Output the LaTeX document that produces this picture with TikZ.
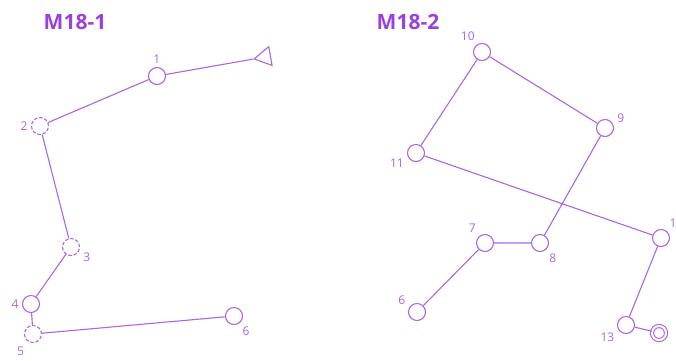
\documentclass[tikz,border=0pt]{standalone}
\usepackage{fontspec}
\setmainfont{Open Sans}
\usetikzlibrary{shapes.geometric}
\definecolor{mlila}{HTML}{A866E8}
\definecolor{mtitel}{HTML}{9A3FE0}

\begin{document}
\begin{tikzpicture}[x=1pt,y=-1pt,
  every node/.style={font=\fontsize{12}{14}\selectfont,text=mlila},
  pt/.style={draw=mlila,circle,line width=1.1pt,minimum size=17pt,inner sep=0pt,
    label distance=0pt,every label/.style={inner sep=1pt,text=mlila,font=\fontsize{12}{14}\selectfont}},
  dpt/.style={pt,dashed,dash pattern=on 3.5pt off 1.8pt},
  eind/.style={draw=mlila,circle,line width=1.1pt,double,double distance=2pt,minimum size=14pt,inner sep=0pt},
  pijl/.style={draw=mlila,regular polygon,regular polygon sides=3,line width=1.1pt,minimum size=22pt,inner sep=0pt,rotate=100},
  titel/.style={font=\fontsize{21}{24}\selectfont\bfseries,text=mtitel},
  ln/.style={draw=mlila,line width=1.1pt}]
\useasboundingbox (0,0) rectangle (676,360);
% linker route
\node[titel] (t1) at (75,22) {M18-1};
\node[pijl] (s) at (265,57) {};
\node[pt,label={92:1}] (a1) at (157,76) {};
\node[dpt,label={180:2}] (a2) at (40,126) {};
\node[dpt,label={-15:3}] (a3) at (71,247) {};
\node[pt,label={180:4}] (a4) at (31,304) {};
\node[dpt,label={[label distance=2pt]240:5}] (a5) at (33,334) {};
\node[pt,label={-55:6}] (a6) at (234,316) {};
\draw[ln] (s) -- (a1) -- (a2) -- (a3) -- (a4) -- (a5) -- (a6);
% rechter route
\node[titel] (t2) at (408,22) {M18-2};
\node[pt,label={115:10}] (b10) at (482,52) {};
\node[pt,label={15:9}] (b9) at (605,128) {};
\node[pt,label={195:11}] (b11) at (416,153) {};
\node[pt,label={55:1}] (b1) at (661,238) {};
\node[pt,label={-50:8}] (b8) at (540,243) {};
\node[pt,label={130:7}] (b7) at (485,243) {};
\node[pt,label={155:6}] (b6) at (417,312) {};
\node[pt,label={205:13}] (b13) at (626,325) {};
\node[eind] (e) at (659,333) {};
\draw[ln] (b6) -- (b7) -- (b8) -- (b9) -- (b10) -- (b11) -- (b1) -- (b13) -- (e);
\end{tikzpicture}
\end{document}
